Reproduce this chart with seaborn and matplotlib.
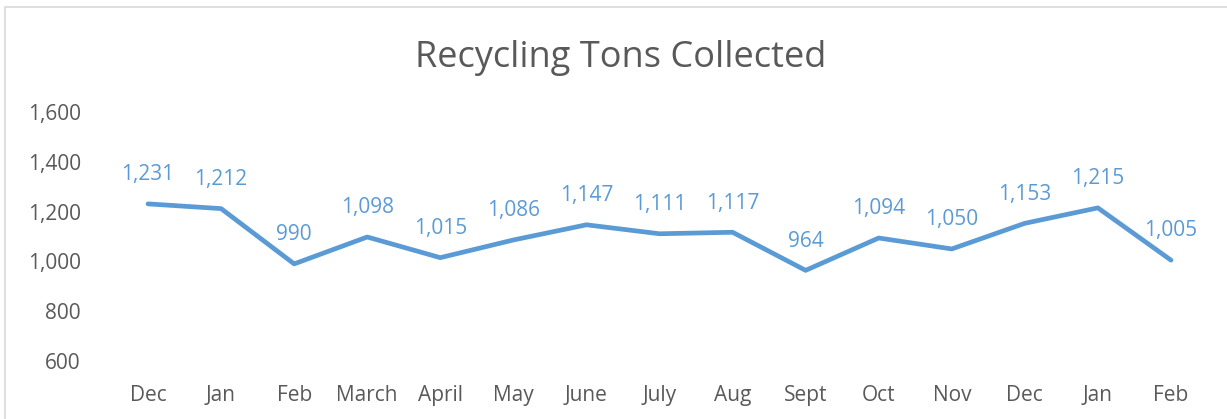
import matplotlib
matplotlib.use("Agg")
import matplotlib.pyplot as plt
import matplotlib.patches as patches
import seaborn as sns
import numpy as np

months = ["Dec", "Jan", "Feb", "March", "April", "May", "June", "July",
          "Aug", "Sept", "Oct", "Nov", "Dec", "Jan", "Feb"]
tons = [1231, 1212, 990, 1098, 1015, 1086, 1147, 1111, 1117, 964, 1094, 1050, 1153, 1215, 1005]
y_ticks = [600, 800, 1000, 1200, 1400, 1600]

line_color = "#5B9BD5"
text_color = "#595959"

sns.set_theme(style="white")
plt.rcParams["font.family"] = ["Open Sans", "DejaVu Sans"]

fig = plt.figure(figsize=(12.27, 4.19), dpi=100)
ax = fig.add_axes([111.5 / 1227, 1 - 361 / 419, 1096 / 1227, 249 / 419])

pos = np.arange(len(months))
sns.lineplot(x=pos, y=tons, ax=ax, color=line_color, linewidth=3.4, sort=False)

for x, v in zip(pos, tons):
    ax.annotate("{:,}".format(v), (x, v), xytext=(0, 21), textcoords="offset points",
                ha="center", va="center", color=line_color, fontsize=15)

ax.set_xlim(-0.5, len(months) - 0.5)
ax.set_ylim(600, 1600)
ax.set_xticks(pos, labels=months)
ax.set_yticks(y_ticks, labels=["{:,}".format(t) for t in y_ticks])
ax.tick_params(axis="both", length=0, labelsize=15, labelcolor=text_color)
ax.tick_params(axis="y", pad=22)
ax.tick_params(axis="x", pad=17)
for s in ax.spines.values():
    s.set_visible(False)
ax.set_xlabel("")
ax.set_ylabel("")

fig.text(621 / 1227, 1 - 58 / 419, "Recycling Tons Collected", ha="center", va="center",
         fontsize=26, color=text_color)

border = patches.Rectangle((5 / 1227, -0.1), 1.2, 1.1 - 7 / 419, transform=fig.transFigure,
                           fill=False, edgecolor="#D9D9D9", linewidth=1.2)
fig.patches.append(border)

fig.savefig("out.png", dpi=100)
